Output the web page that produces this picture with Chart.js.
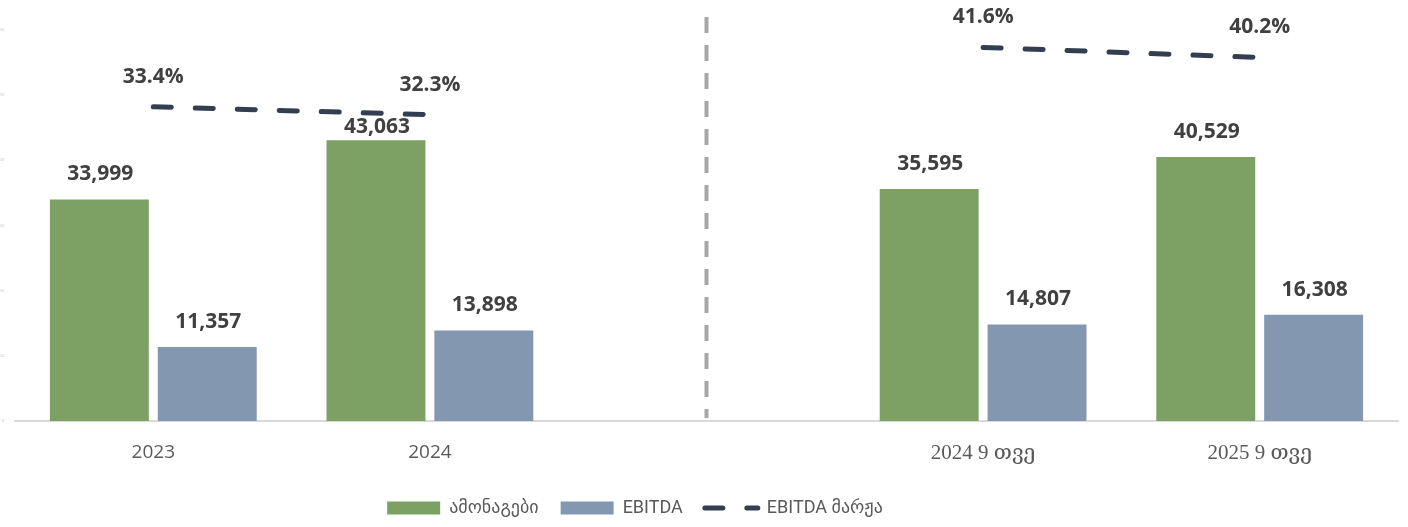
<!DOCTYPE html>
<html>
<head>
<meta charset="utf-8">
<script src="https://cdn.jsdelivr.net/npm/chart.js@4.4.1/dist/chart.umd.min.js"></script>
<style>
  html, body { margin: 0; padding: 0; background: #fff; }
  #wrap { width: 1408px; height: 527px; position: relative; }
</style>
</head>
<body>
<div id="wrap"><canvas id="chart"></canvas></div>
<script>
// data
const categories = ['2023', '2024', '', '2024 9 თვე', '2025 9 თვე'];
const revenue = [33999, 43063, null, 35595, 40529];
const ebitda = [11357, 13898, null, 14807, 16308];
const margin = [33.4, 32.3, null, 41.6, 40.2];
const seriesNames = ['ამონაგები', 'EBITDA', 'EBITDA მარჟა'];
const leftTicks = [0, 10000, 20000, 30000, 40000, 50000, 60000];
const rightTicks = [-10, 0, 10, 20, 30, 40];

const GREEN = '#7DA064';
const BLUE = '#8497B0';
const DARK = '#333F50';

// value labels over bars and over the margin line
const valueLabels = {
    id: 'valueLabels',
    afterDatasetsDraw(chart) {
        const ctx = chart.ctx;
        const lineMeta = chart.getDatasetMeta(2);
        ctx.save();
        ctx.fillStyle = '#404040';
        ctx.font = 'bold 21px "Open Sans"';
        ctx.textAlign = 'center';
        ctx.textBaseline = 'middle';
        [0, 1].forEach(di => {
            const meta = chart.getDatasetMeta(di);
            meta.data.forEach((bar, i) => {
                const v = chart.data.datasets[di].data[i];
                if (v == null) return;
                let off = 25;
                const pt = lineMeta.data[i];
                // label pulled down when the margin line sits just above the bar
                if (pt && margin[i] != null && bar.y - pt.y < 40) off = 13;
                ctx.fillText(v.toLocaleString('en-US'), bar.x + 1, bar.y - off);
            });
        });
        lineMeta.data.forEach((pt, i) => {
            if (margin[i] == null) return;
            ctx.fillText(margin[i].toFixed(1) + '%', pt.x, pt.y - 30);
        });
        ctx.restore();
    }
};

// grey dashed divider between the yearly and 9-month blocks
const divider = {
    id: 'divider',
    beforeDatasetsDraw(chart) {
        const x = chart.scales.x.getPixelForValue(categories.indexOf(''));
        const a = chart.chartArea;
        const ctx = chart.ctx;
        ctx.save();
        ctx.strokeStyle = '#A6A6A6';
        ctx.lineWidth = 4;
        ctx.setLineDash([16, 12]);
        ctx.beginPath();
        ctx.moveTo(x, a.top - 13);
        ctx.lineTo(x, a.bottom - 3);
        ctx.stroke();
        ctx.restore();
    }
};

// legend sits left of centre in the original
const legendShift = {
    id: 'legendShift',
    afterLayout(chart) {
        chart.legend.left -= 69;
        chart.legend.right -= 69;
    }
};

const tinyTicks = { font: { size: 4, family: 'Open Sans' }, color: '#c4c4c4', padding: 3 };

new Chart(document.getElementById('chart'), {
    type: 'bar',
    data: {
        labels: categories,
        datasets: [
            { label: seriesNames[0], data: revenue, backgroundColor: GREEN, yAxisID: 'y', categoryPercentage: 0.78, barPercentage: 0.917 },
            { label: seriesNames[1], data: ebitda, backgroundColor: BLUE, yAxisID: 'y', categoryPercentage: 0.78, barPercentage: 0.917 },
            {
                type: 'line', label: seriesNames[2], data: margin, yAxisID: 'y1',
                borderColor: DARK, backgroundColor: DARK, borderWidth: 5,
                borderDash: [18, 24], borderCapStyle: 'round', pointRadius: 0, spanGaps: false
            }
        ]
    },
    options: {
        responsive: true,
        maintainAspectRatio: false,
        animation: false,
        layout: { padding: { top: 30, left: 0, right: 0, bottom: 0 } },
        scales: {
            x: {
                grid: { display: false, drawTicks: false, tickLength: 0 },
                border: { display: true, color: '#D9D9D9', width: 2 },
                ticks: {
                    padding: 20,
                    color: '#595959',
                    font: c => (categories[c.index] || '').indexOf('თვე') >= 0
                        ? { family: '"Liberation Serif", "DejaVu Serif", serif', size: 21 }
                        : { family: '"Open Sans", sans-serif', size: 19 }
                },
                afterFit: s => { s.height = 56; }
            },
            y: {
                position: 'left', min: 0, max: 60000,
                grid: { display: false }, border: { display: false },
                ticks: { ...tinyTicks, callback: v => v.toLocaleString('en-US') },
                afterBuildTicks: s => { s.ticks = leftTicks.map(v => ({ value: v })); },
                afterFit: s => { s.width = 15; }
            },
            y1: {
                position: 'right', min: -10, max: 44,
                grid: { display: false }, border: { display: false },
                ticks: { ...tinyTicks, callback: v => v + '%' },
                afterBuildTicks: s => { s.ticks = rightTicks.map(v => ({ value: v })); },
                afterFit: s => { s.width = 10; }
            }
        },
        plugins: {
            tooltip: { enabled: false },
            legend: {
                position: 'bottom',
                labels: {
                    usePointStyle: true,
                    pointStyleWidth: 53,
                    boxHeight: 13,
                    padding: 22,
                    color: '#595959',
                    font: { family: 'Roboto, "DejaVu Sans", sans-serif', size: 18 },
                    generateLabels(chart) {
                        const items = Chart.defaults.plugins.legend.labels.generateLabels(chart);
                        items.forEach((it, i) => {
                            if (i === 2) {
                                it.pointStyle = 'line';
                                it.lineWidth = 5;
                                it.lineDash = [18, 24];
                                it.lineCap = 'round';
                                it.strokeStyle = DARK;
                            } else {
                                it.pointStyle = 'rect';
                                it.lineWidth = 0;
                            }
                        });
                        return items;
                    }
                }
            }
        }
    },
    plugins: [valueLabels, divider, legendShift]
});
</script>
</body>
</html>
